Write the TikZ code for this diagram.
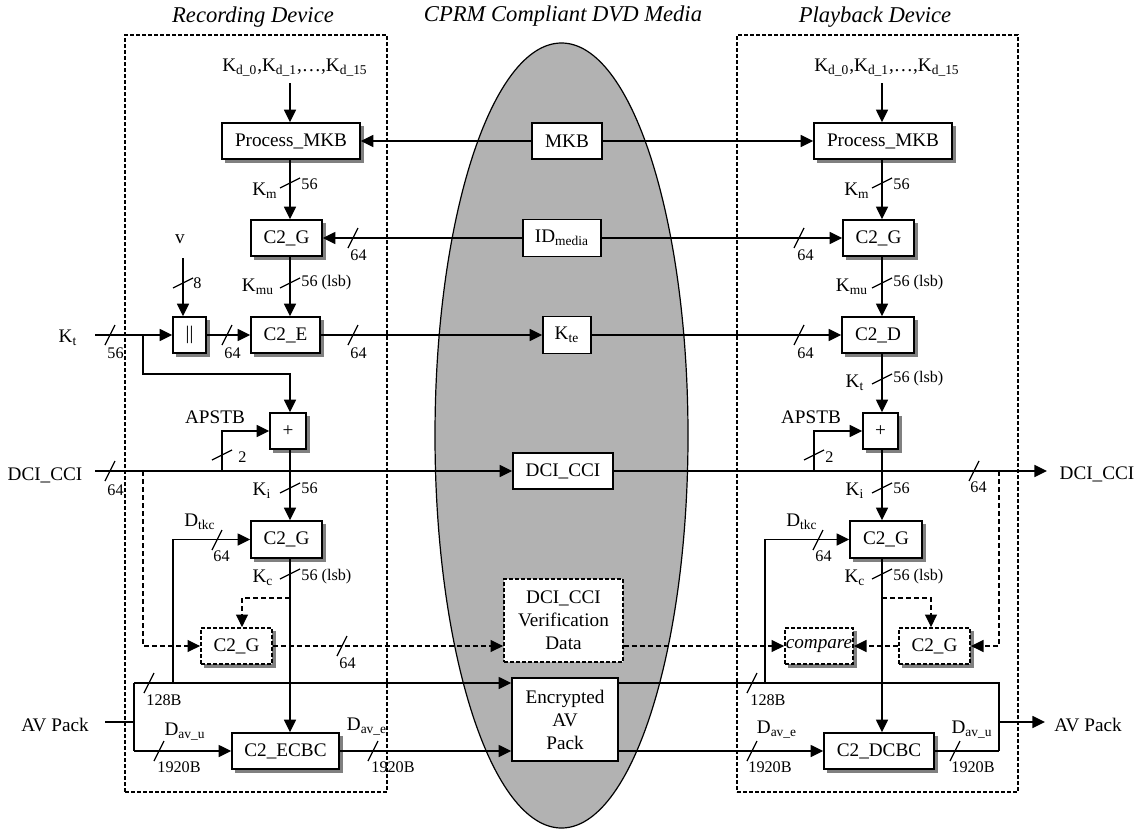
\documentclass[tikz,border=0pt]{standalone}
\usepackage{fontspec}
\setmainfont{Liberation Serif}
\usetikzlibrary{arrows.meta,shapes.geometric}

\pgfdeclarelayer{shade}
\pgfsetlayers{shade,main}

\begin{document}
\begin{tikzpicture}[x=0.5pt,y=-0.5pt,
  wire/.style={line width=0.65pt},
  arr/.style={wire,-{Triangle[length=6.3pt,width=6pt]}},
  dwire/.style={wire,dash pattern=on 2.5pt off 1.5pt},
  darr/.style={dwire,-{Triangle[length=6.3pt,width=6pt]}},
  sz/.style 2 args={minimum width=#1*0.5pt,minimum height=#2*0.5pt},
  mbox/.style={draw,line width=0.75pt,fill=white,inner sep=0pt,align=center,
    font=\fontsize{9.6}{11.5}\selectfont},
  dmbox/.style={mbox,line width=0.9pt,dash pattern=on 2pt off 1pt},
  blk/.style={mbox},
  dblk/.style={blk,line width=0.9pt,dash pattern=on 2pt off 1pt},
  shadefill/.style={fill=black!50,draw=none},
  lbl/.style={inner sep=0pt,font=\fontsize{9.6}{11.5}\selectfont},
  num/.style={inner sep=0pt,anchor=west,font=\fontsize{8.1}{9}\selectfont},
  ttl/.style={inner sep=0pt,font=\fontsize{11.3}{13}\selectfont\itshape},
  dev/.style={draw,line width=0.9pt,dash pattern=on 2pt off 1pt,inner sep=0pt},
  vcut/.pic={\draw[wire] (-10,5) -- (10,-5);},
  hcut/.pic={\draw[wire] (-5,10) -- (5,-10);},
]
\useasboundingbox (0,0) rectangle (1139,830);

% titles
\node[ttl] (ttlrec) at (253,17) {Recording Device};
\node[ttl] (ttlmed) at (563,16) {CPRM Compliant DVD Media};
\node[ttl] (ttlply) at (875,17) {Playback Device};

% device frames and the disc
\node[dev,sz={262}{757}] (recdev) at (256,413.5) {};
\node[dev,sz={281}{757}] (plydev) at (877.5,413.5) {};
\node[ellipse,draw,line width=0.6pt,fill=black!30,inner sep=0pt,sz={253}{785}] (media) at (561.5,435.5) {};

% wire columns
\coordinate (xl) at (290,0);
\coordinate (xr) at (882,0);

% recording device blocks
\node[blk,sz={138}{36}] (lpm) at (291,141) {Process\_MKB};
\node[blk,sz={71}{36}] (lg1) at (286.5,238) {C2\_G};
\node[blk,sz={33}{36}] (lcat) at (189.5,335) {||};
\node[blk,sz={69}{36}] (le) at (285.5,335) {C2\_E};
\node[blk,sz={36}{36}] (lplus) at (288,431) {+};
\node[blk,sz={71}{37}] (lg2) at (286.5,539.5) {C2\_G};
\node[dblk,sz={71}{36}] (lg3) at (236.5,646) {C2\_G};
\node[blk,sz={107}{36}] (lecbc) at (285.5,751) {C2\_ECBC};

% media contents
\node[mbox,sz={70}{36}] (mkb) at (567,141) {MKB};
\node[mbox,sz={78}{37}] (idm) at (562,238) {ID\textsubscript{media}};
\node[mbox,sz={48}{37}] (kte) at (567,335) {K\textsubscript{te}};
\node[mbox,sz={100}{36}] (dci) at (563,471) {DCI\_CCI};
\node[dmbox,sz={119}{83}] (ver) at (563.5,620.5) {DCI\_CCI\\Verification\\Data};
\node[mbox,sz={106}{83}] (eav) at (565,719.5) {Encrypted\\AV\\Pack};

% playback device blocks
\node[blk,sz={138}{36}] (rpm) at (883,141) {Process\_MKB};
\node[blk,sz={71}{36}] (rg1) at (878.5,238) {C2\_G};
\node[blk,sz={72}{36}] (rd) at (878,335) {C2\_D};
\node[blk,sz={35}{36}] (rplus) at (880.5,431) {+};
\node[blk,sz={72}{37}] (rg2) at (886,539.5) {C2\_G};
\node[dblk,sz={71}{36}] (rg3) at (934.5,646) {C2\_G};
\node[dblk,sz={68}{36}] (cmp) at (819,646) {\textit{compare}};
\node[blk,sz={110}{36}] (rdcbc) at (879,751) {C2\_DCBC};

% drop shadows of the device blocks
\begin{pgfonlayer}{shade}
  \foreach \n in {lpm,lg1,lcat,le,lplus,lg2,lg3,lecbc,rpm,rg1,rd,rplus,rg2,rg3,cmp,rdcbc}
    \fill[shadefill] ([shift={(1.7pt,-1.7pt)}]\n.south west) rectangle ([shift={(1.7pt,-1.7pt)}]\n.north east);
\end{pgfonlayer}

% plain labels
\node[lbl] (lkd) at (295,68) {K\textsubscript{d\_0},K\textsubscript{d\_1},\ldots,K\textsubscript{d\_15}};
\node[lbl] (rkd) at (887,68) {K\textsubscript{d\_0},K\textsubscript{d\_1},\ldots,K\textsubscript{d\_15}};
\node[lbl] (lv) at (180,239) {v};
\node[lbl] (lkt) at (68,338) {K\textsubscript{t}};
\node[lbl] (ldcil) at (45,475) {DCI\_CCI};
\node[lbl] (rdcil) at (1097,474) {DCI\_CCI};
\node[lbl] (lavl) at (55,725) {AV Pack};
\node[lbl] (ravl) at (1088,725) {AV Pack};
\node[lbl] (lap) at (215,417) {APSTB};
\node[lbl] (rap) at (811,417) {APSTB};

\node[lbl] (lkm) at (265,191) {K\textsubscript{m}};
\node[lbl] (rkm) at (857,191) {K\textsubscript{m}};
\node[lbl] (lkmu) at (258,287) {K\textsubscript{mu}};
\node[lbl] (rkmu) at (852,287) {K\textsubscript{mu}};
\node[lbl] (rkt) at (855,383) {K\textsubscript{t}};
\node[lbl] (lki) at (262,491) {K\textsubscript{i}};
\node[lbl] (rki) at (855,491) {K\textsubscript{i}};
\node[lbl] (lkc) at (263,578) {K\textsubscript{c}};
\node[lbl] (rkc) at (855,578) {K\textsubscript{c}};
\node[lbl] (ldt) at (200,522) {D\textsubscript{tkc}};
\node[lbl] (rdt) at (802,522) {D\textsubscript{tkc}};
\node[lbl] (ldu) at (185,732) {D\textsubscript{av\_u}};
\node[lbl] (rdu) at (972,730) {D\textsubscript{av\_u}};
\node[lbl] (lde) at (367,727) {D\textsubscript{av\_e}};
\node[lbl] (rde) at (777,730) {D\textsubscript{av\_e}};

% bus widths
\node[num] (w1) at (301,184) {56};
\node[num] (w2) at (350,255) {64};
\node[num] (w3) at (193,283) {8};
\node[num] (w4) at (301,283) {56 (lsb)};
\node[num] (w5) at (107,353) {56};
\node[num] (w6) at (224,353) {64};
\node[num] (w7) at (350,353) {64};
\node[num] (w8) at (238,457) {2};
\node[num] (w9) at (107,490) {64};
\node[num] (w10) at (301,488) {56};
\node[num] (w11) at (213,556) {64};
\node[num] (w12) at (301,577) {56 (lsb)};
\node[num] (w13) at (339,663) {64};
\node[num] (w14) at (146,700) {128B};
\node[num] (w15) at (157,767) {1920B};
\node[num] (w16) at (371,767) {1920B};
\node[num] (w17) at (893,184) {56};
\node[num] (w18) at (797,255) {64};
\node[num] (w19) at (893,283) {56 (lsb)};
\node[num] (w20) at (797,353) {64};
\node[num] (w21) at (893,379) {56 (lsb)};
\node[num] (w22) at (825,457) {2};
\node[num] (w23) at (970,487) {64};
\node[num] (w24) at (893,488) {56};
\node[num] (w25) at (815,556) {64};
\node[num] (w26) at (893,577) {56 (lsb)};
\node[num] (w27) at (750,700) {128B};
\node[num] (w28) at (748,767) {1920B};
\node[num] (w29) at (951,767) {1920B};

% free ends and junctions
\coordinate (lkdend) at (290,83);
\coordinate (rkdend) at (882,83);
\coordinate (lvend) at (183,258);
\coordinate (ktin) at (95,335);
\coordinate (ktb) at (143,335);
\coordinate (lapb) at (222,471);
\coordinate (rapb) at (814,471);
\coordinate (dciin) at (95,471);
\coordinate (dciout) at (1047,471);
\coordinate (ldcib) at (143,471);
\coordinate (rdcib) at (999,471);
\coordinate (ltkc) at (173,683);
\coordinate (rtkc) at (765,683);
\coordinate (lkcb) at (290,598);
\coordinate (rkcb) at (882,598);
\coordinate (lg3tap) at (242,0);
\coordinate (rg3tap) at (931,0);
\coordinate (avin) at (105,722);
\coordinate (avj) at (134,722);
\coordinate (avtop) at (134,683);
\coordinate (avbot) at (134,751);
\coordinate (ravtop) at (999,683);
\coordinate (ravbot) at (999,751);
\coordinate (ravj) at (999,722);
\coordinate (ravout) at (1045,722);

% recording device wiring
\draw[arr] (lkdend) -- (lpm.north -| xl);
\draw[arr] (mkb.west) -- (lpm.east);
\draw[arr] (lpm.south -| xl) -- (lg1.north -| xl);
\draw[arr] (idm.west) -- (lg1.east);
\draw[arr] (lvend) -- (lcat.north -| lvend);
\draw[arr] (ktin) -- (lcat.west);
\draw[arr] (ktb) -- ++(0,39) -| (lplus.north -| xl);
\draw[arr] (lcat.east) -- (le.west);
\draw[arr] (lg1.south -| xl) -- (le.north -| xl);
\draw[arr] (le.east) -- (kte.west);
\draw[arr] (lapb) |- (lplus.west);
\draw[arr] (dciin) -- (dci.west);
\draw[arr] (lplus.south -| xl) -- (lg2.north -| xl);
\draw[arr] (ltkc) |- (lg2.west);
\draw[arr] (lg2.south -| xl) -- (lecbc.north -| xl);
\draw[darr] (lkcb) -| (lg3.north -| lg3tap);
\draw[darr] (ldcib) |- (lg3.west);
\draw[darr] (lg3.east) -- (lg3.east -| ver.west);
\draw[wire] (avin) -- (avj);
\draw[wire] (avtop) -- (avbot);
\draw[arr] (avtop) -- (avtop -| eav.west);
\draw[arr] (avbot) -- (lecbc.west);
\draw[arr] (lecbc.east) -- (lecbc.east -| eav.west);

% playback device wiring
\draw[arr] (mkb.east) -- (rpm.west);
\draw[arr] (idm.east) -- (rg1.west);
\draw[arr] (kte.east) -- (rd.west);
\draw[arr] (dci.east) -- (dciout);
\draw[arr] (rkdend) -- (rpm.north -| xr);
\draw[arr] (rpm.south -| xr) -- (rg1.north -| xr);
\draw[arr] (rg1.south -| xr) -- (rd.north -| xr);
\draw[arr] (rd.south -| xr) -- (rplus.north -| xr);
\draw[arr] (rapb) |- (rplus.west);
\draw[arr] (rplus.south -| xr) -- (rg2.north -| xr);
\draw[arr] (rtkc) |- (rg2.west);
\draw[arr] (rg2.south -| xr) -- (rdcbc.north -| xr);
\draw[darr] (rkcb) -| (rg3.north -| rg3tap);
\draw[darr] (rdcib) |- (rg3.east);
\draw[darr] (rg3.west) -- (cmp.east);
\draw[darr] (ver.east |- cmp) -- (cmp.west);
\draw[wire] (eav.east |- avtop) -- (ravtop) -- (ravbot);
\draw[arr] (eav.east |- avbot) -- (rdcbc.west);
\draw[wire] (rdcbc.east) -- (ravbot);
\draw[arr] (ravj) -- (ravout);

% bus-width marks
\foreach \p in {(290,183),(290,283),(290,488),(290,574),(183,283),(222,455),
                (882,183),(882,283),(882,379),(882,488),(882,574),(814,455)}
  \pic at \p {vcut};
\foreach \p in {(353,238),(799,238),(110,335),(227,335),(353,335),(799,335),
                (110,471),(974,471),(217,540),(818,540),(342,646),(149,683),
                (752,683),(159,751),(373,751),(752,751),(955,751)}
  \pic at \p {hcut};
\end{tikzpicture}
\end{document}
